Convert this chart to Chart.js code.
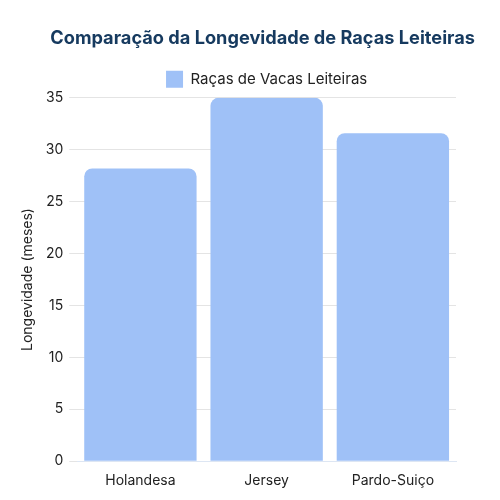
<!DOCTYPE html>
<html>
<head>
<meta charset="utf-8">
<script src="https://cdn.jsdelivr.net/npm/chart.js@4/dist/chart.umd.min.js"></script>
<style>
  html, body { margin: 0; padding: 0; background: #fff; }
  #wrap { width: 500px; height: 500px; }
</style>
</head>
<body>
<div id="wrap"><canvas id="chart"></canvas></div>
<script>
// Chart data
const breeds = ['Holandesa', 'Jersey', 'Pardo-Suiço'];
const longevityMonths = [28.2, 35, 31.6];
const seriesLabel = 'Raças de Vacas Leiteiras';

const fontFamily = "Inter, 'Noto Sans', sans-serif";

new Chart(document.getElementById('chart'), {
    type: 'bar',
    data: {
        labels: breeds,
        datasets: [{
            label: seriesLabel,
            data: longevityMonths,
            backgroundColor: '#9fc1f7',
            borderRadius: 8,
            borderSkipped: 'bottom',
            categoryPercentage: 1,
            barPercentage: 0.89
        }]
    },
    options: {
        responsive: true,
        maintainAspectRatio: false,
        animation: false,
        layout: { padding: { left: 15, right: 25, top: 28, bottom: 8 } },
        plugins: {
            title: {
                display: true,
                align: 'end',
                text: 'Comparação da Longevidade de Raças Leiteiras',
                color: '#163a5f',
                font: { family: fontFamily, size: 18.2, weight: 'bold' },
                padding: { top: 0, bottom: 13 }
            },
            legend: {
                fullSize: false,
                labels: {
                    color: '#222',
                    boxWidth: 17,
                    boxHeight: 17,
                    padding: 8,
                    font: { family: fontFamily, size: 15 }
                }
            }
        },
        scales: {
            x: {
                grid: { display: false },
                border: { color: '#dde6f3' },
                ticks: { color: '#222', font: { family: fontFamily, size: 14 } }
            },
            y: {
                min: 0,
                max: 35,
                ticks: { stepSize: 5, color: '#222', padding: 6, font: { family: fontFamily, size: 14 } },
                grid: { color: '#e4e4e4' },
                border: { display: false },
                title: {
                    display: true,
                    text: 'Longevidade (meses)',
                    color: '#222',
                    font: { family: fontFamily, size: 14 }
                }
            },
            // empty right-hand spacer so the plot ends where the reference's does
            spacer: {
                position: 'right',
                ticks: { display: false },
                grid: { display: false },
                border: { display: false },
                afterFit: (scale) => { scale.width = 19; }
            }
        }
    }
});
</script>
</body>
</html>
